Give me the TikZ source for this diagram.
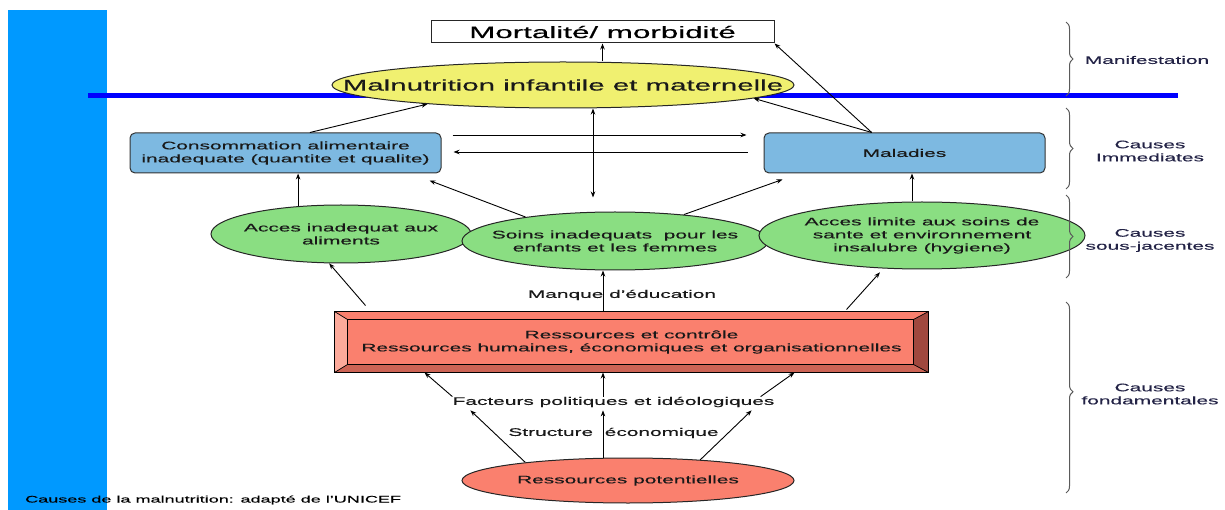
\documentclass[tikz,border=0pt]{standalone}
\usepackage{fontspec}
\setmainfont{Liberation Sans}[FakeStretch=1.9,FakeBold=0.35]
\usetikzlibrary{shapes.geometric,arrows.meta,decorations.pathreplacing}
\definecolor{bandblue}{RGB}{0,153,255}
\definecolor{lineblue}{RGB}{0,0,255}
\definecolor{malyellow}{RGB}{240,240,112}
\definecolor{immblue}{RGB}{125,185,225}
\definecolor{sousgreen}{RGB}{138,222,130}
\definecolor{fondsalmon}{RGB}{250,128,110}
\definecolor{bevlight}{RGB}{252,170,155}
\definecolor{bevdark}{RGB}{205,100,85}
\definecolor{bevdeep}{RGB}{160,72,62}
\definecolor{labelink}{RGB}{35,35,70}
\definecolor{bracegray}{RGB}{90,90,90}
\newcommand{\ovalnode}[7]{%
  \node[ellipse,draw=black!85,line width=1pt,fill=#6,minimum width=#4,minimum height=#5,inner sep=0pt] (#1) at (#2,#3) {};
  % text kept in its own node so the oval keeps its size
  \node[txt] (#1-t) at (#1.center) {#7};
}

\begin{document}
\begin{tikzpicture}[x=1pt,y=-1pt,
    txt/.style={font=\fontsize{11}{13}\selectfont,align=center,inner sep=0pt,text=black!90},
    immbox/.style={draw=black!80,line width=1pt,rounded corners=5pt,fill=immblue,txt},
    arr/.style={-{Stealth[length=6pt,width=4.5pt]},line width=0.9pt},
    brace/.style={decorate,decoration={brace,amplitude=7pt},draw=bracegray,line width=1pt}]
  \useasboundingbox (0,0) rectangle (1225,510);
  \fill[bandblue] (8,10) rectangle (107,510);
  \draw[lineblue,line width=5pt] (88,96) -- (1178,96);

  % manifestation
  \node[draw=black!85,line width=1pt,fill=white,minimum width=343pt,minimum height=22pt,inner sep=0pt,
    font=\fontsize{16.5}{18}\selectfont] (mort) at (602.5,32) {Mortalité/ morbidité};
  \ovalnode{malnu}{563}{85}{462pt}{46pt}{malyellow}{\fontsize{15.5}{18}\selectfont Malnutrition infantile et maternelle}

  % causes immediates
  \node[immbox,minimum width=311pt,minimum height=40pt] (cons) at (285.5,153)
    {Consommation alimentaire\\inadequate (quantite et qualite)};
  \node[immbox,minimum width=281pt,minimum height=40pt] (malad) at (904.5,153) {Maladies};

  % causes sous-jacentes
  \ovalnode{acces}{341}{234}{260pt}{58pt}{sousgreen}{Acces inadequat aux\\aliments}
  \ovalnode{soins}{615}{241}{306pt}{58pt}{sousgreen}{Soins inadequats\ \ pour les\\enfants et les femmes}
  \ovalnode{hyg}{922}{235.5}{326pt}{67pt}{sousgreen}{Acces limite aux soins de\\sante et environnement\\insalubre (hygiene)}

  % causes fondamentales
  \node[draw=black,line width=1pt,fill=fondsalmon,minimum width=593pt,minimum height=60pt,txt] (res) at (631.5,342)
    {Ressources et contrôle\\Ressources humaines, économiques et organisationnelles};
  \fill[bevlight] (res.north west) -- ([shift={(13pt,-8pt)}]res.north west)
    -- ([shift={(13pt,8pt)}]res.south west) -- (res.south west) -- cycle;
  \fill[bevdark] (res.south west) -- ([shift={(13pt,8pt)}]res.south west)
    -- ([shift={(-15pt,8pt)}]res.south east) -- (res.south east) -- cycle;
  \fill[bevdeep] (res.north east) -- ([shift={(-15pt,-8pt)}]res.north east)
    -- ([shift={(-15pt,8pt)}]res.south east) -- (res.south east) -- cycle;
  \draw[line width=0.7pt] ([shift={(13pt,-8pt)}]res.north west) rectangle ([shift={(-15pt,8pt)}]res.south east);
  \draw[line width=0.7pt] (res.north west) -- ([shift={(13pt,-8pt)}]res.north west)
    (res.south west) -- ([shift={(13pt,8pt)}]res.south west)
    (res.north east) -- ([shift={(-15pt,-8pt)}]res.north east)
    (res.south east) -- ([shift={(-15pt,8pt)}]res.south east);
  \draw[line width=1pt] (res.north west) rectangle (res.south east);

  \ovalnode{pot}{628}{480.5}{332pt}{45pt}{fondsalmon}{Ressources potentielles}

  \node[txt] (manque) at (622,295) {Manque d'éducation};
  \node[txt] (fact) at (613.5,402) {Facteurs politiques et idéologiques};
  \node[txt] (struct) at (613.5,433) {Structure\ \ économique};

  % connectors
  \draw[arr] (malnu.north -| mort.south) -- (mort.south);
  \draw[arr] (cons.40) -- (malnu.188);
  \draw[arr] (malad.148) -- (malnu.-4);
  \draw[arr] (malad.148) -- (mort.south east);
  \draw[arr] ([shift={(11pt,18pt)}]cons.east) -- ([shift={(-17pt,18pt)}]malad.west);
  \draw[arr] ([shift={(-16pt,1pt)}]malad.west) -- ([shift={(12pt,1pt)}]cons.east);
  \draw[{Stealth[length=6pt,width=4.5pt]}-{Stealth[length=6pt,width=4.5pt]},line width=0.9pt]
    ([xshift=30pt]malnu.south) -- ([shift={(-22pt,14pt)}]soins.north);
  \draw[arr] (acces.147) -- (acces.147 |- cons.south);
  \draw[arr] (soins.165) -- ([shift={(-12pt,-7pt)}]cons.south east);
  \draw[arr] (soins.21) -- ([shift={(19pt,-6pt)}]malad.south west);
  \draw[arr] ([xshift=-10pt]hyg.north) -- ([xshift=-10pt]hyg.north |- malad.south);
  \draw[arr] ([shift={(31pt,6pt)}]res.north west) -- (acces.248);
  \draw[arr] ([xshift=-12pt]soins.south |- res.north) -- ([xshift=-12pt]soins.south);
  \draw[arr] ([shift={(-82pt,2pt)}]res.north east) -- ([yshift=-4pt]hyg.218);
  \draw[arr] (pot.170) -- ([shift={(18pt,-3pt)}]fact.south west);
  \draw[arr] (fact.north west) -- ([xshift=90pt]res.south west);
  \draw[arr] ([xshift=-25pt]pot.north) -- ([shift={(-10.5pt,-3pt)}]fact.south);
  \draw[arr] ([xshift=-10.5pt]fact.north) -- ([xshift=-10.5pt]fact.north |- res.south);
  \draw[arr] (pot.16) -- ([shift={(-23pt,-3pt)}]fact.south east);
  \draw[arr] ([xshift=-14pt]fact.north east) -- ([xshift=-134pt]res.south east);

  % levels
  \draw[brace] (1066,22) -- (1066,96);
  \draw[brace] (1066,108) -- (1066,189);
  \draw[brace] (1066,195) -- (1066,278);
  \draw[brace,decoration={aspect=0.47}] (1066,302) -- (1066,493);
  \node[txt,text=labelink] (manif) at (1147,60) {Manifestation};
  \node[txt,text=labelink] (imm) at (1150,151) {Causes\\Immediates};
  \node[txt,text=labelink] (sous) at (1150,240.5) {Causes\\sous-jacentes};
  \node[txt,text=labelink] (fond) at (1150,394) {Causes\\fondamentales};

  \node[font=\fontsize{9.5}{11}\selectfont,anchor=west,inner sep=0pt] (caption) at (25,500)
    {Causes de la malnutrition: adapté de l'UNICEF};
\end{tikzpicture}
\end{document}
